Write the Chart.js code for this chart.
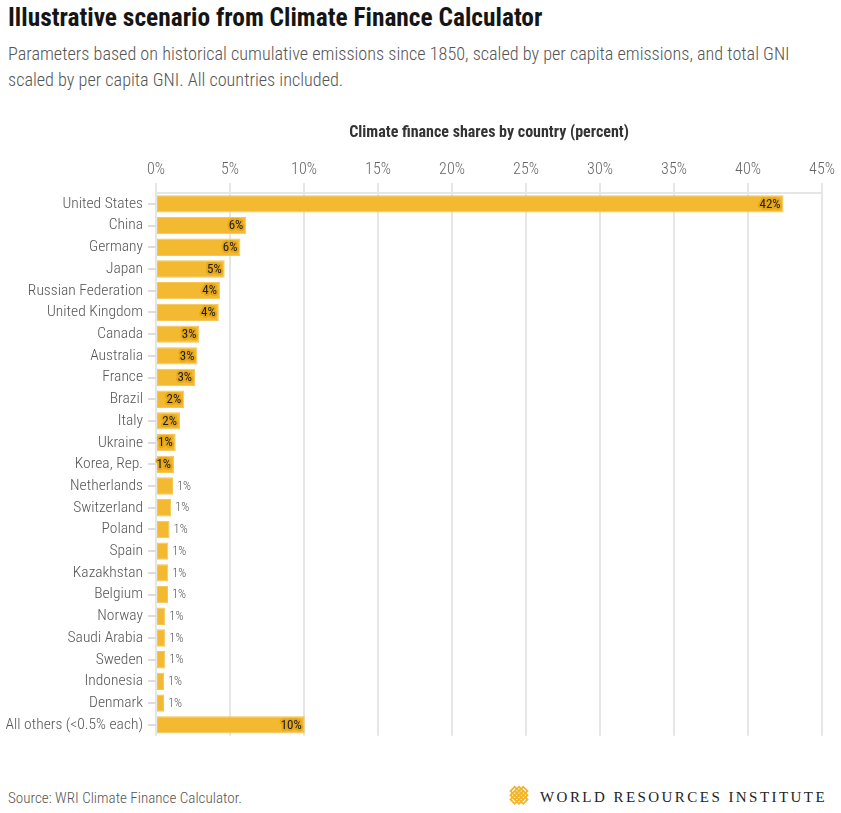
<!DOCTYPE html>
<html>
<head>
<meta charset="utf-8">
<script src="https://cdn.jsdelivr.net/npm/chart.js@4.4.1/dist/chart.umd.min.js"></script>
<style>
  html, body { margin: 0; padding: 0; background: #fff; }
  #page { position: relative; width: 841px; height: 813px; overflow: hidden; background: #fff;
          font-family: 'Roboto Condensed', 'Liberation Sans Narrow', 'Arial Narrow', 'DejaVu Sans', sans-serif; font-stretch: condensed; }
  #title { position: absolute; left: 8px; top: 2px; font-size: 25.4px; font-weight: bold; color: #151515; white-space: nowrap; }
  #subtitle { position: absolute; left: 8px; top: 41px; width: 820px; font-size: 18.2px; line-height: 26px; color: #555; font-weight: 300; }
  #chartBox { position: absolute; left: 0; top: 110px; width: 841px; height: 640px; }
  #source { position: absolute; left: 8px; top: 789px; font-size: 15.1px; color: #555; white-space: nowrap; font-weight: 300; }
  #logo { position: absolute; left: 505px; top: 784px; }
  #logoText { position: absolute; left: 540px; top: 789px; font-family: 'Liberation Serif', 'DejaVu Serif', serif; font-stretch: normal;
              font-size: 15px; letter-spacing: 2.45px; color: #222; white-space: nowrap; }
</style>
</head>
<body>
<div id="page">
  <div id="title">Illustrative scenario from Climate Finance Calculator</div>
  <div id="subtitle">Parameters based on historical cumulative emissions since 1850, scaled by per capita emissions, and total GNI scaled by per capita GNI. All countries included.</div>
  <div id="chartBox"><canvas id="c" width="841" height="640"></canvas></div>
  <div id="source">Source: WRI Climate Finance Calculator.</div>
  <svg id="logo" width="28" height="28" viewBox="0 0 28 28">
    <g transform="rotate(45 14 14)" fill="none" stroke="#f2b42a" stroke-width="1.8">
      <rect x="6" y="6" width="6" height="6"/>
      <rect x="12" y="6" width="6" height="6"/>
      <rect x="6" y="12" width="6" height="6"/>
      <rect x="12" y="12" width="6" height="6"/>
      <rect x="9" y="3" width="6" height="6"/>
      <rect x="9" y="15" width="6" height="6"/>
      <rect x="3" y="9" width="6" height="6"/>
      <rect x="15" y="9" width="6" height="6"/>
    </g>
  </svg>
  <div id="logoText">WORLD RESOURCES INSTITUTE</div>
</div>
<script>
const categories = [
  'United States', 'China', 'Germany', 'Japan', 'Russian Federation', 'United Kingdom',
  'Canada', 'Australia', 'France', 'Brazil', 'Italy', 'Ukraine', 'Korea, Rep.',
  'Netherlands', 'Switzerland', 'Poland', 'Spain', 'Kazakhstan', 'Belgium', 'Norway',
  'Saudi Arabia', 'Sweden', 'Indonesia', 'Denmark', 'All others (<0.5% each)'
];
const shares = [
  42.4, 6.1, 5.7, 4.64, 4.32, 4.24,
  2.93, 2.8, 2.64, 1.91, 1.62, 1.33, 1.22,
  1.15, 1.02, 0.92, 0.83, 0.83, 0.81, 0.63,
  0.63, 0.63, 0.54, 0.54, 10.05
];
const xTickValues = [0, 5, 10, 15, 20, 25, 30, 35, 40, 45];
const axisTitle = 'Climate finance shares by country (percent)';
const insideThreshold = 1.2;

const FONT = "'Roboto Condensed', 'Liberation Sans Narrow', 'Arial Narrow', 'DejaVu Sans', sans-serif";

const labelPlugin = {
  id: 'barLabels',
  afterDatasetsDraw(chart) {
    const ctx = chart.ctx;
    const meta = chart.getDatasetMeta(0);
    ctx.save();
    ctx.textBaseline = 'middle';
    ctx.lineJoin = 'round';
    meta.data.forEach((bar, i) => {
      const v = shares[i];
      const txt = Math.round(v) + '%';
      if (v >= insideThreshold) {
        ctx.font = "13px " + FONT;
        ctx.textAlign = 'right';
        ctx.lineWidth = 4;
        ctx.strokeStyle = '#e6a718';
        ctx.strokeText(txt, bar.x - 3, bar.y + 0.5);
        ctx.fillStyle = '#1c1c1c';
        ctx.fillText(txt, bar.x - 3, bar.y + 0.5);
      } else {
        ctx.font = "300 12.5px " + FONT;
        ctx.textAlign = 'left';
        ctx.lineWidth = 3;
        ctx.strokeStyle = '#ffffff';
        ctx.strokeText(txt, bar.x + 4, bar.y + 0.5);
        ctx.fillStyle = '#555555';
        ctx.fillText(txt, bar.x + 4, bar.y + 0.5);
      }
    });
    ctx.restore();
  }
};

new Chart(document.getElementById('c'), {
  type: 'bar',
  data: {
    labels: categories,
    datasets: [{
      data: shares,
      backgroundColor: '#f2b931',
      borderColor: '#f5c655',
      borderWidth: 1,
      borderSkipped: false,
      barPercentage: 0.8,
      categoryPercentage: 1.0
    }]
  },
  options: {
    indexAxis: 'y',
    responsive: false,
    animation: false,
    devicePixelRatio: 1,
    layout: { padding: { top: 0, right: 19, bottom: 10, left: 0 } },
    plugins: { legend: { display: false }, tooltip: { enabled: false } },
    scales: {
      x: {
        type: 'linear',
        position: 'top',
        min: 0, max: 45,
        afterBuildTicks(scale) { scale.ticks = xTickValues.map(v => ({ value: v })); },
        afterFit(scale) { scale.height = 83; },
        ticks: {
          callback: v => v + '%',
          color: '#666',
          font: { family: FONT, size: 16, weight: 300 },
          padding: 3,
          maxRotation: 0
        },
        grid: { color: '#e6e6e6', lineWidth: 2, tickLength: 10, drawTicks: true },
        border: { display: true, color: '#e6e6e6', width: 2 },
        title: {
          display: true,
          text: axisTitle,
          color: '#333',
          font: { family: FONT, size: 16, weight: 'bold' },
          padding: { top: 13, bottom: 0 }
        }
      },
      y: {
        afterFit(scale) { scale.width = 156; },
        ticks: { color: '#555', font: { family: FONT, size: 15.5, weight: 300 }, padding: 5, autoSkip: false },
        grid: { drawOnChartArea: false, drawTicks: true, tickLength: 8, color: '#dddddd', lineWidth: 2, offset: false },
        border: { display: false }
      }
    }
  },
  plugins: [labelPlugin]
});
</script>
</body>
</html>
